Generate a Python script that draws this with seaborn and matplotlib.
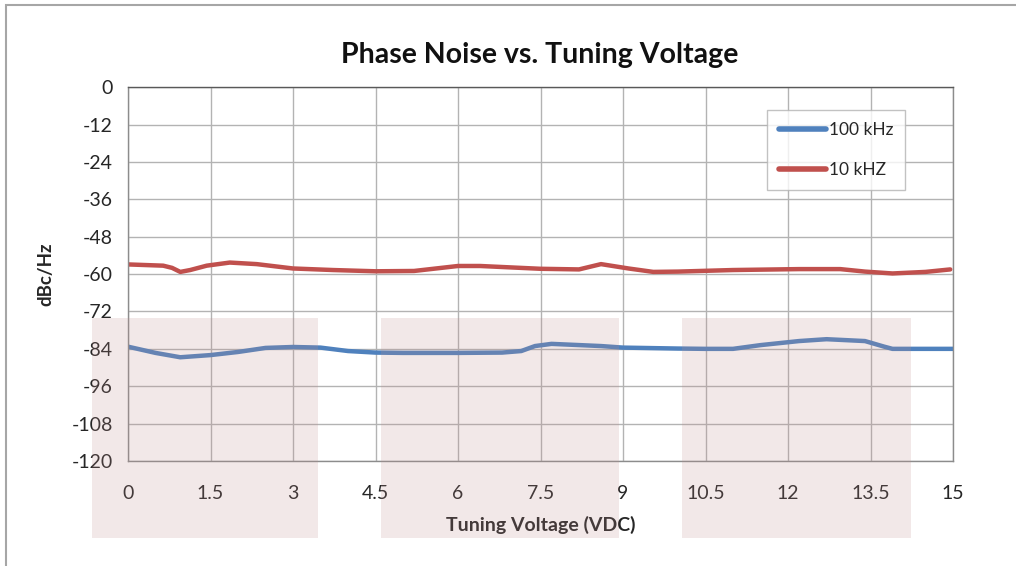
import numpy as np
import pandas as pd
import matplotlib as mpl
mpl.use('Agg')
import matplotlib.pyplot as plt
import seaborn as sns

# values
volt_100k = [0, 0.5, 0.95, 1.5, 2, 2.5, 3, 3.5, 4, 4.5, 5, 6, 6.8, 7.15, 7.4, 7.7,
             8.6, 9, 10, 10.5, 11, 11.5, 12.2, 12.7, 13.4, 13.75, 13.9, 15]
pn_100k = [-83.3, -85.3, -86.7, -86.0, -85.0, -83.7, -83.4, -83.6, -84.7, -85.2, -85.3,
           -85.3, -85.2, -84.7, -83.1, -82.4, -83.1, -83.6, -83.9, -84.0, -84.0, -82.8,
           -81.5, -80.9, -81.5, -83.3, -84.0, -84.0]

volt_10k = [0, 0.64, 0.8, 0.95, 1.13, 1.43, 1.85, 2.34, 3, 3.73, 4.5, 5.2, 6, 6.4, 7.5,
            8.2, 8.6, 9.1, 9.55, 10, 11, 12.2, 12.95, 13.4, 13.9, 14.5, 14.95]
pn_10k = [-56.9, -57.3, -58.0, -59.3, -58.7, -57.3, -56.3, -56.8, -58.2, -58.7, -59.1,
          -59.0, -57.4, -57.4, -58.3, -58.5, -56.8, -58.2, -59.3, -59.2, -58.7, -58.4,
          -58.4, -59.2, -59.8, -59.3, -58.5]

series_names = ['100 kHz', '10 kHZ']
series_colors = ['#4F81BD', '#C0504D']
x_ticks = [0, 1.5, 3, 4.5, 6, 7.5, 9, 10.5, 12, 13.5, 15]
x_ticklabels = ['0', '1.5', '3', '4.5', '6', '7.5', '9', '10.5', '12', '13.5', '15']
y_ticks = [0, -12, -24, -36, -48, -60, -72, -84, -96, -108, -120]

df = pd.concat([
    pd.DataFrame({'v': volt_100k, 'pn': pn_100k, 'series': series_names[0]}),
    pd.DataFrame({'v': volt_10k, 'pn': pn_10k, 'series': series_names[1]}),
])

sns.set_theme(style='whitegrid')
plt.rcParams['font.family'] = ['Lato', 'DejaVu Sans']
plt.rcParams['axes.unicode_minus'] = False

fig = plt.figure(figsize=(10.16, 5.66), dpi=100)
ax = fig.add_axes([0.126, 0.1855, 0.812, 0.6605])

sns.lineplot(data=df, x='v', y='pn', hue='series', hue_order=series_names,
             palette=series_colors, linewidth=3.2, ax=ax, sort=True)
for line in ax.get_lines():
    line.set_solid_joinstyle('round')
    line.set_solid_capstyle('round')

ax.set_xlim(0, 15)
ax.set_ylim(-120, 0)
ax.set_xticks(x_ticks)
ax.set_xticklabels(x_ticklabels)
ax.set_yticks(y_ticks)
ax.tick_params(axis='x', labelsize=14, pad=17, length=0, colors='#262626')
ax.tick_params(axis='y', labelsize=14, pad=11, length=0, colors='#262626')
ax.grid(True, color='#b3b3b3', linewidth=1.0)
for sp in ax.spines.values():
    sp.set_color('#8c8c8c')
    sp.set_linewidth(1.0)
ax.spines['top'].set_color('#595959')

ax.set_xlabel('Tuning Voltage (VDC)', fontsize=14, fontweight='bold', labelpad=10)
ax.set_ylabel('dBc/Hz', fontsize=13.5, fontweight='bold', labelpad=12)
fig.text(0.531, 0.902, 'Phase Noise vs. Tuning Voltage', ha='center', va='center',
         fontsize=20.5, fontweight='bold', color='#111111')

leg = ax.legend(loc='upper left', bbox_to_anchor=(0.7745, 0.9385), fontsize=12.5,
                frameon=True, fancybox=False, handlelength=2.7, handletextpad=0.15,
                labelspacing=1.35, borderpad=0.7, borderaxespad=0)
leg.get_frame().set_edgecolor('#b3b3b3')
leg.get_frame().set_linewidth(1.0)
for line in leg.get_lines():
    line.set_linewidth(4)

# outer chart border (cut at the right and bottom edges)
fig.patches.append(mpl.patches.Rectangle((6 / 1016, -0.1), 1.2, 1.1 - 5 / 566,
                                         transform=fig.transFigure, fill=False,
                                         edgecolor='#a6a6a6', linewidth=1.5))
# translucent pink blocks over the lower part of the chart
for x0, w in [(92, 226), (381, 238), (682, 229)]:
    fig.patches.append(mpl.patches.Rectangle((x0 / 1016, 1 - 538 / 566), w / 1016, 220 / 566,
                                             transform=fig.transFigure, facecolor='#be8c8c',
                                             alpha=0.2, edgecolor='none', zorder=10))

fig.savefig('out.png', dpi=100)
